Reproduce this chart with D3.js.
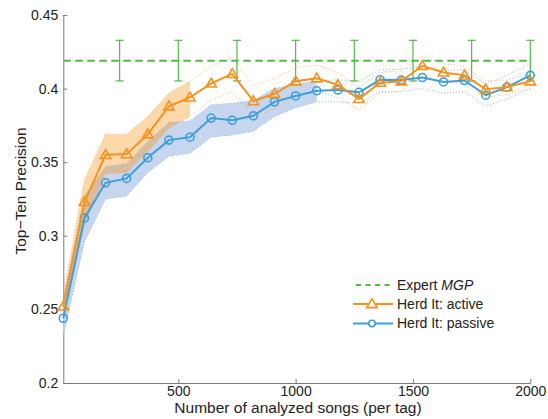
<!DOCTYPE html>
<html>
<head>
<meta charset="utf-8">
<script src="https://cdn.jsdelivr.net/npm/d3@7/dist/d3.min.js"></script>
<style>
  html, body { margin: 0; padding: 0; background: #fff; }
  svg { display: block; font-family: "Liberation Sans", Arial, Helvetica, sans-serif; }
</style>
</head>
<body>
<svg id="chart" width="548" height="419"></svg>
<script>
// Number of analyzed songs per tag
const songs = [10, 100, 190, 280, 370, 460, 550, 640, 730, 820, 910, 1000, 1090,
               1180, 1270, 1360, 1450, 1540, 1630, 1720, 1810, 1900, 2000];

// Herd It, active learning: mean and confidence bounds
const activeMean  = [0.252, 0.323, 0.355, 0.3555, 0.369, 0.388, 0.394, 0.4035, 0.410, 0.3915, 0.3965, 0.405, 0.407,
                     0.4025, 0.393, 0.404, 0.405, 0.4155, 0.411, 0.409, 0.3995, 0.401, 0.405];
const activeLow   = [0.244, 0.307, 0.342, 0.343, 0.357, 0.373, 0.381, 0.392, 0.398, 0.381, 0.386, 0.395, 0.398,
                     0.394, 0.386, 0.397, 0.398, 0.409, 0.405, 0.403, 0.394, 0.396, 0.400];
const activeHigh  = [0.260, 0.338, 0.369, 0.369, 0.381, 0.397, 0.405, 0.415, 0.421, 0.402, 0.407, 0.414, 0.416,
                     0.411, 0.401, 0.411, 0.412, 0.422, 0.417, 0.415, 0.405, 0.406, 0.410];
const activeFillCount = 7;   // shaded up to 550 songs

// Herd It, passive: mean and confidence bounds
const passiveMean = [0.244, 0.312, 0.336, 0.339, 0.353, 0.365, 0.367, 0.380, 0.3785, 0.3815, 0.391, 0.395, 0.3985,
                     0.399, 0.3975, 0.406, 0.4058, 0.4075, 0.4045, 0.4055, 0.3955, 0.401, 0.409];
const passiveLow  = [0.232, 0.296, 0.325, 0.327, 0.343, 0.354, 0.356, 0.367, 0.3685, 0.371, 0.381, 0.387, 0.391,
                     0.391, 0.390, 0.398, 0.398, 0.400, 0.397, 0.398, 0.388, 0.393, 0.400];
const passiveHigh = [0.256, 0.327, 0.347, 0.349, 0.364, 0.377, 0.378, 0.389, 0.390, 0.392, 0.400, 0.403, 0.405,
                     0.406, 0.405, 0.413, 0.413, 0.415, 0.412, 0.413, 0.403, 0.409, 0.417];
const passiveFillCount = 13; // shaded up to 1090 songs

// Expert MGP reference level with error bars
const expertLevel = 0.419;
const expertErr = 0.0138;
const expertBarX = [250, 500, 750, 1000, 1250, 1500, 1750, 2000];

const yTicks = [0.2, 0.25, 0.3, 0.35, 0.4, 0.45];
const yTickLabels = ["0.2", "0.25", "0.3", "0.35", "0.4", "0.45"];
const xTicks = [500, 1000, 1500, 2000];
const xTickLabels = ["500", "1000", "1500", "2000"];

const legendLabels = ["Expert", "Herd It: active", "Herd It: passive"];

const ORANGE = "#f5921e", BLUE = "#3d9ed8", GREEN = "#55b74a";

const svg = d3.select("#chart");
const x = d3.scaleLinear().domain([10, 2000]).range([63.3, 530.3]);
const y = d3.scaleLinear().domain([0.2, 0.45]).range([383, 15]);

// Axes
const yAxis = d3.axisLeft(y).tickValues(yTicks)
  .tickFormat((d, i) => yTickLabels[i]).tickSizeInner(-4).tickSizeOuter(0).tickPadding(5);
const xAxis = d3.axisBottom(x).tickValues(xTicks)
  .tickFormat((d, i) => xTickLabels[i]).tickSizeInner(-4).tickSizeOuter(0).tickPadding(3);

const gy = svg.append("g").attr("transform", "translate(63.3,0)").call(yAxis);
const gx = svg.append("g").attr("transform", "translate(0,383)").call(xAxis);
[gx, gy].forEach(g => {
  g.select(".domain").attr("stroke", "#7a7a7a").attr("stroke-width", 1);
  g.selectAll(".tick line").attr("stroke", "#7a7a7a");
  g.selectAll(".tick text").attr("fill", "#222").attr("font-size", 14)
    .attr("font-family", "'Liberation Sans', Arial, sans-serif");
});

// Confidence bands
const band = (lo, hi) => d3.area()
  .x((d, i) => x(songs[i])).y0((d, i) => y(lo[i])).y1((d, i) => y(hi[i]));
const idx = n => d3.range(n);

svg.append("path").datum(idx(passiveFillCount))
  .attr("d", band(passiveLow, passiveHigh)).attr("fill", "#c6d6ee");
svg.append("path").datum(idx(activeFillCount))
  .attr("d", band(activeLow, activeHigh)).attr("fill", "rgb(249,138,0)").attr("fill-opacity", 0.33);

const boundLine = arr => d3.line().x((d, i) => x(songs[i])).y((d, i) => y(arr[i]));
[[passiveLow, "#8fb5e3"], [passiveHigh, "#8fb5e3"], [activeLow, "#f8b56a"], [activeHigh, "#f8b56a"]]
  .forEach(([arr, c]) => {
    svg.append("path").datum(songs).attr("d", boundLine(arr))
      .attr("fill", "none").attr("stroke", c).attr("stroke-width", 1)
      .attr("stroke-dasharray", "1,2");
  });

// Expert MGP: dashed level and error bars
svg.append("line")
  .attr("x1", x(10)).attr("x2", x(2000))
  .attr("y1", y(expertLevel)).attr("y2", y(expertLevel))
  .attr("stroke", GREEN).attr("stroke-width", 2).attr("stroke-dasharray", "7.5,4.5");
const eb = svg.append("g").attr("stroke", GREEN).attr("stroke-width", 1.2);
expertBarX.forEach(v => {
  const cx = x(v), t = y(expertLevel + expertErr), b = y(expertLevel - expertErr);
  eb.append("line").attr("x1", cx).attr("x2", cx).attr("y1", t).attr("y2", b);
  eb.append("line").attr("x1", cx - 4).attr("x2", cx + 4).attr("y1", t).attr("y2", t);
  eb.append("line").attr("x1", cx - 4).attr("x2", cx + 4).attr("y1", b).attr("y2", b);
});

// Series lines and markers
const meanLine = arr => d3.line().x((d, i) => x(songs[i])).y((d, i) => y(arr[i]));
const triangle = "M0,-5.2L5.2,3.6L-5.2,3.6Z";

svg.append("path").datum(songs).attr("d", meanLine(passiveMean))
  .attr("fill", "none").attr("stroke", BLUE).attr("stroke-width", 2);
svg.append("g").selectAll("circle").data(passiveMean).join("circle")
  .attr("cx", (d, i) => x(songs[i])).attr("cy", d => y(d)).attr("r", 4)
  .attr("fill", "none").attr("stroke", BLUE).attr("stroke-width", 1.6);

svg.append("path").datum(songs).attr("d", meanLine(activeMean))
  .attr("fill", "none").attr("stroke", ORANGE).attr("stroke-width", 2);
svg.append("g").selectAll("path").data(activeMean).join("path")
  .attr("d", triangle)
  .attr("transform", (d, i) => `translate(${x(songs[i])},${y(d)})`)
  .attr("fill", "none").attr("stroke", ORANGE).attr("stroke-width", 1.6);

// Axis titles
svg.append("text").attr("x", 298).attr("y", 413).attr("text-anchor", "middle")
  .attr("font-size", 15.5).attr("fill", "#222").text("Number of analyzed songs (per tag)");
svg.append("text").attr("transform", "translate(26,191) rotate(-90)").attr("text-anchor", "middle")
  .attr("font-size", 15.5).attr("fill", "#222").text("Top\u2212Ten Precision");

// Legend
const lg = svg.append("g").attr("font-size", 14).attr("fill", "#222");
const rows = [285, 304, 323.5];
lg.append("line").attr("x1", 356).attr("x2", 392).attr("y1", rows[0]).attr("y2", rows[0])
  .attr("stroke", GREEN).attr("stroke-width", 2).attr("stroke-dasharray", "5,4.5");
lg.append("line").attr("x1", 353).attr("x2", 393).attr("y1", rows[1]).attr("y2", rows[1])
  .attr("stroke", ORANGE).attr("stroke-width", 2);
lg.append("path").attr("d", triangle).attr("transform", `translate(372,${rows[1]})`)
  .attr("fill", "#fff").attr("stroke", ORANGE).attr("stroke-width", 1.6);
lg.append("line").attr("x1", 353).attr("x2", 393).attr("y1", rows[2]).attr("y2", rows[2])
  .attr("stroke", BLUE).attr("stroke-width", 2);
lg.append("circle").attr("cx", 372).attr("cy", rows[2]).attr("r", 3.2)
  .attr("fill", "#fff").attr("stroke", BLUE).attr("stroke-width", 1.6);

const t0 = lg.append("text").attr("x", 397).attr("y", rows[0]).attr("dy", "0.35em");
t0.append("tspan").text(legendLabels[0] + " ");
t0.append("tspan").attr("font-style", "italic").text("MGP");
lg.append("text").attr("x", 397).attr("y", rows[1]).attr("dy", "0.35em").text(legendLabels[1]);
lg.append("text").attr("x", 397).attr("y", rows[2]).attr("dy", "0.35em").text(legendLabels[2]);
</script>
</body>
</html>
